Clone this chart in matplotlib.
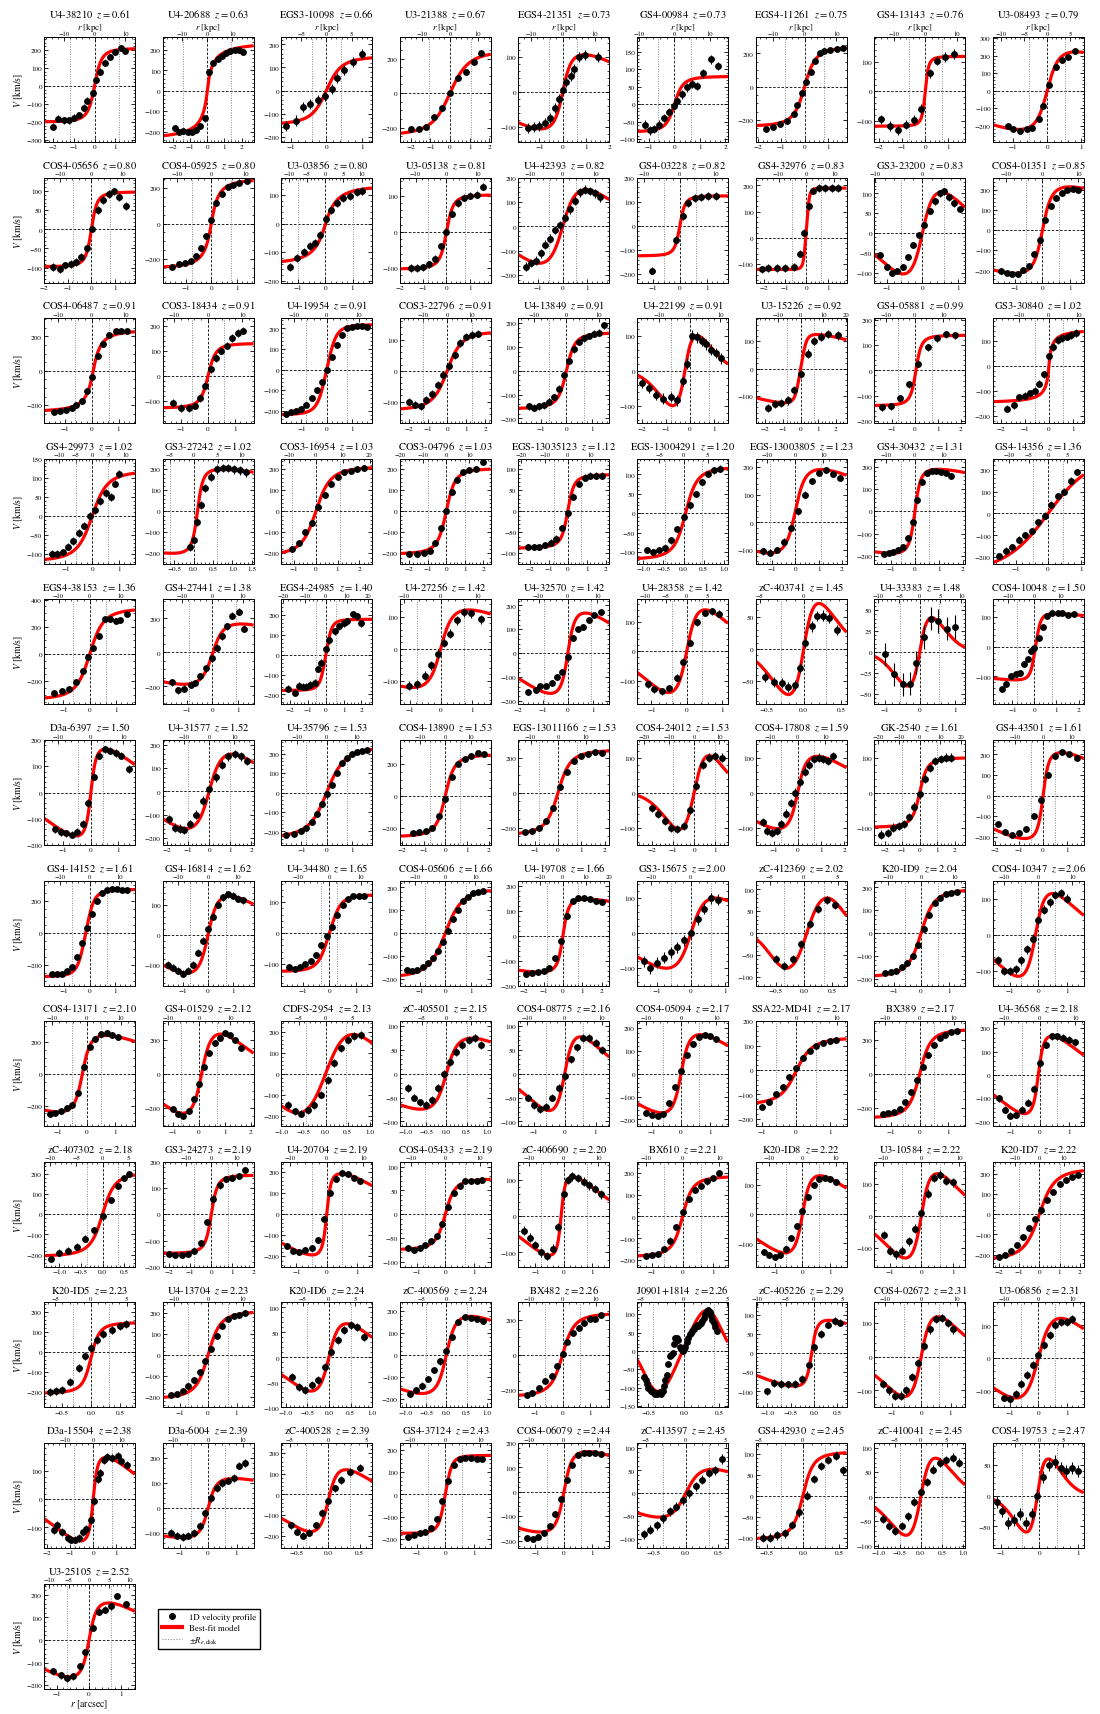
import numpy as np
import matplotlib
matplotlib.use('Agg')
import matplotlib.pyplot as plt
from matplotlib.ticker import MultipleLocator, AutoMinorLocator
from matplotlib.lines import Line2D

# ---------------- data ----------------
NAMES = ["U4-38210", "U4-20688", "EGS3-10098", "U3-21388", "EGS4-21351", "GS4-00984", "EGS4-11261", "GS4-13143", "U3-08493",
         "COS4-05656", "COS4-05925", "U3-03856", "U3-05138", "U4-42393", "GS4-03228", "GS4-32976", "GS3-23200", "COS4-01351",
         "COS4-06487", "COS3-18434", "U4-19954", "COS3-22796", "U4-13849", "U4-22199", "U3-15226", "GS4-05881", "GS3-30840",
         "GS4-29973", "GS3-27242", "COS3-16954", "COS3-04796", "EGS-13035123", "EGS-13004291", "EGS-13003805", "GS4-30432", "GS4-14356",
         "EGS4-38153", "GS4-27441", "EGS4-24985", "U4-27256", "U4-32570", "U4-28358", "zC-403741", "U4-33383", "COS4-10048",
         "D3a-6397", "U4-31577", "U4-35796", "COS4-13890", "EGS-13011166", "COS4-24012", "COS4-17808", "GK-2540", "GS4-43501",
         "GS4-14152", "GS4-16814", "U4-34480", "COS4-05606", "U4-19708", "GS3-15675", "zC-412369", "K20-ID9", "COS4-10347",
         "COS4-13171", "GS4-01529", "CDFS-2954", "zC-405501", "COS4-08775", "COS4-05094", "SSA22-MD41", "BX389", "U4-36568",
         "zC-407302", "GS3-24273", "U4-20704", "COS4-05433", "zC-406690", "BX610", "K20-ID8", "U3-10584", "K20-ID7",
         "K20-ID5", "U4-13704", "K20-ID6", "zC-400569", "BX482", "J0901+1814", "zC-405226", "COS4-02672", "U3-06856",
         "D3a-15504", "D3a-6004", "zC-400528", "GS4-37124", "COS4-06079", "zC-413597", "GS4-42930", "zC-410041", "COS4-19753",
         "U3-25105"]

ZS = [0.61, 0.63, 0.66, 0.67, 0.73, 0.73, 0.75, 0.76, 0.79,
      0.80, 0.80, 0.80, 0.81, 0.82, 0.82, 0.83, 0.83, 0.85,
      0.91, 0.91, 0.91, 0.91, 0.91, 0.91, 0.92, 0.99, 1.02,
      1.02, 1.02, 1.03, 1.03, 1.12, 1.20, 1.23, 1.31, 1.36,
      1.36, 1.38, 1.40, 1.42, 1.42, 1.42, 1.45, 1.48, 1.50,
      1.50, 1.52, 1.53, 1.53, 1.53, 1.53, 1.59, 1.61, 1.61,
      1.61, 1.62, 1.65, 1.66, 1.66, 2.00, 2.02, 2.04, 2.06,
      2.10, 2.12, 2.13, 2.15, 2.16, 2.17, 2.17, 2.17, 2.18,
      2.18, 2.19, 2.19, 2.19, 2.20, 2.21, 2.22, 2.22, 2.22,
      2.23, 2.23, 2.24, 2.24, 2.26, 2.26, 2.29, 2.31, 2.31,
      2.38, 2.39, 2.39, 2.43, 2.44, 2.45, 2.45, 2.45, 2.47,
      2.52]

XLIMS = [(-2.45, 1.95), (-2.6, 2.7), (-1.28, 1.3), (-2.56, 2.08), (-1.9, 2.0), (-1.47, 2.1), (-2.1, 1.8), (-2.2, 1.72), (-1.59, 1.07),
         (-2.0, 1.84), (-1.9, 1.65), (-1.61, 1.72), (-2.0, 1.9), (-1.8, 1.9), (-1.6, 1.8), (-2.4, 1.9), (-1.35, 1.2), (-1.8, 1.5),
         (-1.8, 1.62), (-1.7, 1.7), (-1.8, 1.8), (-2.5, 2.3), (-1.9, 1.7), (-2.2, 1.6), (-2.55, 2.6), (-1.77, 2.2), (-2.36, 1.47),
         (-1.8, 1.6), (-0.8, 1.55), (-1.6, 2.6), (-2.5, 2.4), (-2.6, 2.2), (-1.15, 1.1), (-1.7, 2.2), (-1.7, 2.1), (-1.7, 1.1),
         (-1.74, 1.72), (-1.93, 1.6), (-2.5, 2.6), (-1.32, 1.62), (-2.0, 1.68), (-1.41, 1.17), (-0.645, 0.576), (-1.3, 1.3), (-1.89, 2.24),
         (-1.7, 1.6), (-2.2, 2.1), (-1.8, 1.8), (-2.1, 2.1), (-1.7, 2.2), (-2.7, 1.6), (-1.8, 2.1), (-2.6, 2.6), (-2.1, 1.7),
         (-1.8, 1.8), (-1.8, 1.8), (-1.8, 1.6), (-1.8, 1.8), (-2.3, 2.4), (-1.6, 1.1), (-0.85, 0.75), (-1.7, 1.6), (-1.6, 1.6),
         (-1.5, 1.7), (-1.4, 2.1), (-1.0, 1.05), (-1.15, 1.1), (-1.5, 1.45), (-1.5, 1.6), (-1.2, 1.5), (-1.6, 1.6), (-1.6, 1.5),
         (-1.35, 0.75), (-2.3, 2.0), (-1.5, 1.5), (-1.6, 1.6), (-1.6, 1.6), (-1.5, 1.5), (-1.7, 1.6), (-1.5, 1.4), (-2.3, 2.2),
         (-0.8, 0.75), (-1.6, 1.6), (-1.1, 1.0), (-1.15, 1.1), (-1.6, 1.7), (-0.66, 0.62), (-1.25, 0.7), (-1.6, 1.5), (-1.6, 1.6),
         (-2.12, 1.8), (-1.6, 1.6), (-0.75, 0.7), (-1.6, 1.6), (-1.6, 1.6), (-0.75, 0.65), (-0.65, 0.6), (-1.1, 1.05), (-1.2, 1.15),
         (-1.39, 1.42)]

YLIMS = [(-310, 272), (-250, 263), (-223, 232), (-283, 325), (-143, 156), (-108, 192), (-332, 298), (-171, 183), (-293, 306),
         (-139, 135), (-333, 259), (-206, 160), (-140, 150), (-230, 200), (-235, 200), (-170, 230), (-125, 140), (-260, 260),
         (-304, 306), (-190, 230), (-260, 250), (-170, 170), (-220, 220), (-150, 150), (-199, 184), (-209, 207), (-229, 192),
         (-125, 150), (-250, 250), (-250, 250), (-250, 250), (-125, 125), (-130, 140), (-150, 230), (-235, 235), (-230, 250),
         (-371, 402), (-306, 312), (-250, 280), (-175, 155), (-214, 225), (-181, 176), (-86, 77), (-63, 63), (-194, 159),
         (-200, 200), (-230, 220), (-270, 270), (-310, 350), (-300, 300), (-150, 150), (-150, 150), (-150, 150), (-240, 270),
         (-330, 330), (-170, 180), (-170, 170), (-230, 230), (-200, 220), (-150, 150), (-120, 120), (-230, 230), (-140, 150),
         (-330, 330), (-310, 310), (-250, 250), (-110, 110), (-110, 110), (-230, 230), (-230, 200), (-310, 310), (-220, 230),
         (-260, 260), (-200, 200), (-250, 250), (-110, 110), (-140, 150), (-230, 250), (-180, 180), (-160, 170), (-260, 260),
         (-280, 250), (-250, 250), (-100, 110), (-240, 240), (-300, 300), (-154, 132), (-142, 133), (-150, 160), (-150, 170),
         (-173, 199), (-160, 260), (-260, 250), (-240, 230), (-230, 200), (-120, 110), (-125, 125), (-105, 110), (-85, 85),
         (-215, 249)]

XSTEP = [1, 1, 1, 1, 1, 1, 1, 1, 1,
         1, 1, 1, 1, 1, 1, 1, 1, 1,
         1, 1, 1, 1, 1, 1, 1, 1, 1,
         1, 0.5, 1, 1, 1, 0.5, 1, 1, 1,
         1, 1, 1, 1, 1, 1, 0.5, 1, 1,
         1, 1, 1, 1, 1, 1, 1, 1, 1,
         1, 1, 1, 1, 1, 1, 0.5, 1, 1,
         1, 1, 0.5, 0.5, 1, 1, 1, 1, 1,
         0.5, 1, 1, 1, 1, 1, 1, 1, 1,
         0.5, 1, 0.5, 0.5, 1, 0.5, 0.5, 1, 1,
         1, 1, 0.5, 1, 1, 0.5, 0.5, 0.5, 1,
         1]

YSTEP = [100, 100, 100, 200, 100, 50, 200, 100, 100,
         50, 200, 100, 100, 100, 100, 100, 50, 100,
         200, 100, 100, 100, 100, 100, 100, 100, 100,
         50, 100, 100, 100, 50, 50, 100, 100, 100,
         200, 200, 100, 100, 100, 100, 50, 25, 100,
         100, 100, 100, 200, 200, 100, 100, 100, 100,
         200, 100, 100, 100, 100, 100, 50, 100, 100,
         200, 200, 100, 50, 50, 100, 100, 200, 100,
         100, 100, 100, 50, 100, 100, 100, 100, 100,
         100, 100, 50, 100, 200, 50, 50, 100, 100,
         100, 100, 100, 100, 100, 50, 50, 50, 50,
         100]

KSTEP = [10, 10, 5, 10, 10, 10, 10, 10, 5,
         10, 10, 5, 10, 10, 10, 10, 10, 10,
         10, 10, 10, 10, 10, 10, 10, 10, 10,
         5, 5, 10, 10, 10, 5, 10, 10, 5,
         10, 10, 10, 10, 10, 5, 5, 5, 10,
         10, 10, 10, 10, 10, 10, 10, 10, 10,
         10, 10, 10, 10, 10, 10, 5, 10, 10,
         10, 10, 5, 5, 10, 10, 10, 10, 10,
         5, 10, 10, 10, 10, 10, 10, 10, 10,
         5, 10, 5, 5, 10, 5, 5, 10, 10,
         10, 10, 5, 10, 10, 5, 5, 5, 5,
         5]

# effective radius of the disk (arcsec), dotted lines
RE = [1.2, 1.4, 0.41, 1.07, 0.6, 0.65, 0.85, 0.72, 0.53,
      0.78, 0.75, 1.0, 0.8, 0.55, 0.6, 0.7, 0.6, 0.6,
      0.63, 0.6, 0.8, 1.3, 0.7, 0.8, 0.75, 0.75, 0.6,
      0.6, 0.6, 1.1, 1.0, 0.7, 0.45, 1.1, 0.6, 0.45,
      0.62, 0.9, 0.55, 0.75, 0.95, 0.42, 0.3, 0.55, 0.8,
      0.45, 1.0, 0.8, 0.7, 0.8, 1.0, 0.7, 1.0, 0.5,
      0.7, 0.7, 0.3, 0.8, 0.8, 0.6, 0.35, 0.6, 0.6,
      0.5, 0.7, 0.45, 0.5, 0.6, 0.6, 0.6, 0.5, 0.6,
      0.35, 0.8, 0.5, 0.7, 0.8, 0.6, 0.6, 0.6, 1.0,
      0.3, 0.7, 0.5, 0.5, 0.65, 0.43, 0.7, 0.6, 0.6,
      0.82, 0.6, 0.35, 0.6, 0.6, 0.35, 0.3, 0.5, 0.45,
      0.69]

# best-fit model parameters: (centre, offset, amplitude, turnover radius, sharpness, decline radius, decline power)
MODELS = [(0, 5, 205, 0.35, 2, 0, 2), (0, 0, 245, 0.3, 1, 0, 2), (0, 0, 150, 0.45, 2, 0, 2), (0, 0, 250, 1.0, 2, 0, 2),
          (0, 0, 124, 0.4, 2, 2.38, 2), (0, 0, 80, 0.35, 2, 0, 2), (0, 0, 240, 0.5, 2, 0, 2), (0, 0, 118, 0.15, 2, 0, 2),
          (0, 0, 258, 0.35, 2, 2.2, 2),
          (0, 0, 98, 0.25, 2, 0, 2), (0, 0, 255, 0.3, 1.5, 0, 2), (0, -5, 140, 0.45, 1.5, 0, 2), (0, 0, 103, 0.3, 2, 0, 2),
          (0, 0, 206, 0.6, 2, 1.76, 2), (0, 0, 125, 0.2, 2, 0, 2), (0, 35, 155, 0.15, 3, 0, 2), (0, 0, 143, 0.35, 2, 0.98, 2),
          (0, 0, 240, 0.35, 2, 3, 2),
          (0.05, 0, 240, 0.3, 1.5, 0, 2), (0, 0, 130, 0.3, 2, 0, 2), (0, 0, 220, 0.4, 2.5, 0, 2), (0, 0, 130, 0.8, 2, 0, 2),
          (0, 0, 160, 0.35, 2, 0, 2), (-0.2, 0, 142, 0.35, 2, 0.91, 2), (0, 0, 130, 0.35, 3, 4, 2), (0.05, 0, 140, 0.25, 2, 0, 2),
          (0, 0, 150, 0.12, 1, 0, 2),
          (0, 0, 120, 0.6, 2, 0, 2), (0.1, 0, 210, 0.15, 2, 3, 2), (0, 0, 215, 0.7, 2, 0, 2), (0, 0, 205, 0.5, 2, 0, 2),
          (0, 0, 88, 0.35, 2, 0, 2), (0.05, 0, 120, 0.3, 2, 0, 2), (0, 40, 175, 0.45, 2, 2.97, 2), (0, 0, 200, 0.25, 2, 4, 2),
          (0, 0, 300, 1.5, 2, 0, 2),
          (0, 0, 340, 0.55, 2, 0, 2), (0, -10, 205, 0.45, 2, 3, 2), (0, 0, 180, 0.35, 2.5, 0, 2), (0, 0, 144, 0.4, 2, 2.3, 2),
          (0, 0, 197, 0.3, 2, 1.8, 2), (0, 0, 184, 0.3, 2, 1.04, 2), (0, 0, 104, 0.15, 2, 0.35, 2), (0, 0, 60, 0.25, 2, 0.59, 2),
          (0.05, 0, 115, 0.25, 2.5, 5, 2),
          (0, 0, 188, 0.2, 2, 1.5, 2), (0, 0, 212, 0.65, 2, 2.1, 2), (0, 0, 240, 0.75, 2, 0, 2), (0, 0, 260, 0.45, 2, 0, 2),
          (0, 0, 245, 0.55, 2, 0, 2), (0, 0, 170, 0.6, 2, 1.1, 2), (0, 0, 125, 0.4, 2, 2.0, 2), (0, 0, 100, 0.45, 2, 0, 2),
          (0, 0, 230, 0.25, 2, 2.5, 2),
          (-0.15, 0, 275, 0.35, 2.5, 0, 2), (0, 0, 155, 0.4, 2, 2.0, 2), (0, 0, 125, 0.45, 2.5, 0, 2), (0, 0, 200, 0.7, 2, 0, 2),
          (0, 0, 155, 0.3, 2, 5, 2), (0, 0, 135, 0.45, 2, 1.4, 2), (0.05, 0, 120, 0.3, 2, 0.55, 3), (0, 0, 195, 0.5, 2, 0, 2),
          (-0.1, 0, 150, 0.35, 2, 1.2, 2),
          (-0.15, 0, 270, 0.3, 2, 2.5, 2), (0.1, 0, 300, 0.4, 2, 1.5, 2), (0, 0, 330, 0.6, 2, 0.9, 2), (0, 0, 90, 0.3, 2, 1.5, 2),
          (0, 0, 102, 0.3, 2, 1.0, 2), (0, 0, 205, 0.3, 2, 1.6, 2), (0, -5, 140, 0.5, 2, 0, 2), (0, 0, 265, 0.4, 2, 0, 2),
          (-0.05, 0, 195, 0.2, 2, 1.2, 2),
          (0, 0, 210, 0.3, 2, 0, 2), (0, 0, 150, 0.3, 2, 0, 2), (0, 0, 212, 0.15, 2, 1.6, 2), (0, 0, 75, 0.35, 2, 0, 2),
          (-0.1, 0, 122, 0.15, 2, 1.2, 2), (0, 0, 185, 0.35, 2, 0, 2), (0, 0, 160, 0.3, 2, 1.5, 2), (0, 0, 175, 0.3, 2, 1.0, 2),
          (0, 0, 230, 0.8, 2, 0, 2),
          (0, -30, 180, 0.15, 2, 0, 2), (0, 0, 210, 0.45, 2, 0, 2), (0, 0, 90, 0.25, 2, 0.8, 2), (0, 0, 205, 0.25, 2, 1.6, 2),
          (0, 0, 240, 0.45, 2, 0, 2), (-0.02, 0, 231, 0.5, 2, 0.45, 4), (-0.05, 0, 95, 0.12, 2, 1.2, 2), (0, 0, 158, 0.35, 2, 1.1, 2),
          (0, 0, 165, 0.5, 2, 1.5, 2),
          (0, 0, 167, 0.2, 2, 1.6, 2), (0, 0, 130, 0.3, 2, 3, 2), (0, -30, 190, 0.15, 2, 0.6, 2), (0, 0, 175, 0.25, 2.5, 0, 2),
          (0, 0, 185, 0.3, 2, 2.5, 2), (0, 0, 70, 0.25, 2, 0.8, 2), (0, 0, 105, 0.15, 2, 0, 2), (0, 0, 115, 0.25, 2, 0.6, 2),
          (-0.05, 0, 85, 0.2, 2, 0.5, 2),
          (0, 0, 190, 0.25, 2, 1.6, 2)]

VX = [
    [-2.0, -1.75, -1.5, -1.25, -1.0, -0.75, -0.5, -0.35, -0.1, 0.05, 0.25, 0.5, 0.75, 1.0, 1.25, 1.45],
    [-1.9, -1.65, -1.4, -1.1, -0.9, -0.65, -0.4, -0.15, 0.1, 0.35, 0.6, 0.85, 1.1, 1.35, 1.6, 1.85, 2.1],
    [-1.15, -0.85, -0.65, -0.45, -0.25, -0.05, 0.15, 0.3, 0.5, 0.75, 1.0],
    [-2.0, -1.6, -1.2, -0.8, -0.4, 0.0, 0.4, 0.8, 1.2, 1.6],
    [-1.5, -1.25, -1.0, -0.75, -0.55, -0.35, -0.15, 0.0, 0.15, 0.35, 0.5, 0.7, 0.95, 1.5],
    [-1.17, -0.97, -0.79, -0.6, -0.4, -0.2, 0.0, 0.1, 0.3, 0.5, 0.7, 0.9, 1.1, 1.45, 1.7],
    [-1.65, -1.35, -1.06, -0.76, -0.47, -0.32, -0.1, 0.07, 0.26, 0.44, 0.68, 0.85, 1.07, 1.37, 1.63],
    [-1.9, -1.53, -1.18, -0.85, -0.5, -0.18, 0.19, 0.5, 0.87, 1.24],
    [-1.16, -0.99, -0.8, -0.6, -0.43, -0.24, -0.12, 0.05, 0.25, 0.44, 0.62, 0.81],
    [-1.62, -1.32, -1.1, -0.88, -0.66, -0.44, -0.19, 0.03, 0.29, 0.51, 0.74, 0.96, 1.18, 1.47],
    [-1.53, -1.25, -1.04, -0.8, -0.6, -0.42, -0.22, -0.03, 0.19, 0.42, 0.65, 0.86, 1.08, 1.38],
    [-1.28, -1.03, -0.78, -0.56, -0.38, -0.19, 0.04, 0.22, 0.44, 0.66, 0.89, 1.16, 1.35],
    [-1.5, -1.25, -1.0, -0.75, -0.5, -0.25, 0.0, 0.25, 0.5, 0.75, 1.0, 1.3, 1.55],
    [-1.5, -1.3, -1.1, -0.9, -0.7, -0.5, -0.3, -0.1, 0.1, 0.3, 0.5, 0.7, 0.9, 1.1, 1.3, 1.5],
    [-1.05, -0.15, 0.1, 0.3, 0.55, 0.8, 1.05, 1.35],
    [-2.1, -1.8, -1.4, -1.0, -0.6, -0.3, -0.1, 0.1, 0.3, 0.6, 0.9, 1.2, 1.5],
    [-1.2, -1.0, -0.85, -0.7, -0.55, -0.4, -0.25, -0.1, 0.05, 0.2, 0.35, 0.5, 0.6, 0.75, 0.9, 1.05],
    [-1.5, -1.3, -1.1, -0.9, -0.7, -0.5, -0.3, -0.1, 0.1, 0.3, 0.5, 0.7, 0.9, 1.1, 1.3],
    [-1.44, -1.2, -0.98, -0.76, -0.59, -0.39, -0.2, 0.0, 0.24, 0.43, 0.65, 0.89, 1.11, 1.33],
    [-1.3, -1.0, -0.7, -0.5, -0.3, -0.1, 0.1, 0.3, 0.5, 0.7, 0.9, 1.1, 1.3],
    [-1.6, -1.4, -1.2, -1.0, -0.8, -0.6, -0.4, -0.2, 0.0, 0.2, 0.4, 0.6, 0.8, 1.0, 1.2, 1.4, 1.6],
    [-2.0, -1.7, -1.4, -1.1, -0.8, -0.5, -0.2, 0.1, 0.4, 0.7, 1.0, 1.3, 1.6],
    [-1.5, -1.3, -1.1, -0.9, -0.7, -0.5, -0.3, -0.1, 0.1, 0.3, 0.5, 0.7, 0.9, 1.1, 1.3, 1.5],
    [-2.0, -1.7, -1.4, -1.1, -0.8, -0.55, -0.3, -0.1, 0.1, 0.3, 0.5, 0.7, 0.9, 1.1, 1.3],
    [-1.87, -1.45, -1.13, -0.74, -0.36, 0.0, 0.4, 0.77, 1.15, 1.53, 2.13],
    [-1.43, -1.05, -0.63, -0.26, 0.15, 0.57, 0.95, 1.35, 1.77],
    [-1.75, -1.48, -1.27, -1.02, -0.78, -0.58, -0.4, -0.19, 0.0, 0.18, 0.39, 0.57, 0.75, 0.93, 1.14],
    [-1.5, -1.3, -1.1, -0.9, -0.7, -0.5, -0.3, -0.1, 0.1, 0.3, 0.5, 0.7, 0.85, 1.0],
    [-0.1, 0.0, 0.1, 0.2, 0.3, 0.45, 0.6, 0.75, 0.9, 1.05, 1.2, 1.35],
    [-1.1, -0.8, -0.5, -0.2, 0.1, 0.4, 0.7, 1.0, 1.3, 1.6, 1.9, 2.2],
    [-2.0, -1.6, -1.2, -0.9, -0.6, -0.3, 0.0, 0.3, 0.6, 0.9, 1.2, 1.6, 2.0],
    [-2.1, -1.8, -1.5, -1.2, -0.9, -0.6, -0.3, 0.0, 0.3, 0.6, 0.9, 1.2, 1.5, 1.8],
    [-0.9, -0.75, -0.6, -0.45, -0.3, -0.15, 0.0, 0.15, 0.3, 0.45, 0.6, 0.75, 0.9],
    [-1.4, -1.1, -0.8, -0.5, -0.2, 0.1, 0.4, 0.7, 1.0, 1.3, 1.6, 1.9],
    [-1.3, -1.1, -0.9, -0.7, -0.5, -0.3, -0.1, 0.1, 0.3, 0.5, 0.7, 0.9, 1.1, 1.3, 1.5],
    [-1.5, -1.3, -1.1, -0.9, -0.7, -0.5, -0.3, -0.1, 0.1, 0.3, 0.5, 0.7, 0.9],
    [-1.35, -1.06, -0.8, -0.54, -0.26, -0.07, 0.13, 0.35, 0.59, 0.77, 0.98, 1.16, 1.4],
    [-1.56, -1.33, -1.09, -0.84, -0.67, -0.47, -0.23, -0.03, 0.17, 0.37, 0.57, 0.77, 1.03, 1.24],
    [-2.1, -1.75, -1.5, -1.3, -1.1, -0.9, -0.6, -0.45, -0.25, 0.0, 0.2, 0.5, 0.75, 1.0, 1.2, 1.5, 1.75, 2.0],
    [-1.02, -0.77, -0.52, -0.3, -0.08, 0.11, 0.3, 0.52, 0.75, 0.99, 1.3],
    [-1.61, -1.3, -1.12, -0.88, -0.64, -0.43, -0.22, 0.0, 0.2, 0.41, 0.63, 0.84, 1.05, 1.33],
    [-1.11, -0.92, -0.7, -0.51, -0.28, -0.12, 0.08, 0.3, 0.52, 0.71, 0.91],
    [-0.52, -0.4, -0.29, -0.21, -0.12, -0.05, 0.02, 0.11, 0.18, 0.26, 0.34, 0.45],
    [-0.99, -0.74, -0.48, -0.29, -0.1, 0.12, 0.32, 0.53, 0.77, 1.01],
    [-1.47, -1.27, -1.05, -0.85, -0.65, -0.46, -0.28, -0.15, 0.0, 0.19, 0.39, 0.59, 0.8, 1.05, 1.27, 1.51, 1.78],
    [-1.3, -1.1, -0.9, -0.7, -0.5, -0.3, -0.1, 0.1, 0.3, 0.5, 0.7, 0.9, 1.1, 1.4],
    [-1.9, -1.6, -1.4, -1.2, -0.9, -0.6, -0.3, 0.0, 0.3, 0.6, 0.9, 1.2, 1.5, 1.8],
    [-1.6, -1.3, -1.0, -0.8, -0.6, -0.4, -0.2, 0.0, 0.2, 0.4, 0.6, 0.8, 1.0, 1.2, 1.4, 1.6],
    [-1.5, -1.2, -0.9, -0.6, -0.3, 0.0, 0.3, 0.6, 0.9, 1.2, 1.5, 1.8],
    [-1.4, -1.1, -0.8, -0.5, -0.2, 0.1, 0.4, 0.7, 1.0, 1.3, 1.6, 1.9],
    [-2.0, -1.7, -1.4, -1.1, -0.8, -0.5, -0.2, 0.1, 0.4, 0.7, 1.0, 1.3],
    [-1.5, -1.3, -1.1, -0.9, -0.7, -0.5, -0.3, -0.1, 0.1, 0.3, 0.5, 0.7, 0.9, 1.1, 1.3, 1.5],
    [-2.2, -1.8, -1.5, -1.2, -0.9, -0.6, -0.3, 0.0, 0.3, 0.6, 0.9, 1.2, 1.5, 1.8],
    [-1.9, -1.6, -1.3, -1.0, -0.7, -0.4, -0.1, 0.2, 0.5, 0.8, 1.1, 1.4],
    [-1.5, -1.3, -1.1, -0.9, -0.7, -0.5, -0.3, -0.1, 0.1, 0.3, 0.5, 0.7, 0.9, 1.1, 1.3, 1.5],
    [-1.6, -1.4, -1.2, -1.0, -0.8, -0.6, -0.4, -0.2, 0.0, 0.2, 0.4, 0.6, 0.8, 1.0, 1.2, 1.4],
    [-1.5, -1.3, -1.1, -0.9, -0.7, -0.5, -0.3, -0.1, 0.1, 0.3, 0.5, 0.7, 0.9, 1.1, 1.3],
    [-1.5, -1.3, -1.1, -0.9, -0.7, -0.5, -0.3, -0.1, 0.1, 0.3, 0.5, 0.7, 0.9, 1.1, 1.3, 1.5],
    [-1.9, -1.6, -1.3, -1.0, -0.7, -0.4, -0.1, 0.2, 0.5, 0.8, 1.1, 1.4, 1.7, 2.0],
    [-1.4, -1.2, -1.0, -0.8, -0.6, -0.4, -0.2, 0.0, 0.2, 0.4, 0.6, 0.8],
    [-0.5, -0.35, -0.2, -0.05, 0.1, 0.25, 0.4, 0.55],
    [-1.3, -1.1, -0.9, -0.7, -0.5, -0.3, -0.1, 0.1, 0.3, 0.5, 0.7, 0.9, 1.1, 1.3],
    [-1.4, -1.2, -1.0, -0.8, -0.6, -0.4, -0.2, 0.0, 0.2, 0.4, 0.6, 0.8, 1.0],
    [-1.3, -1.1, -0.9, -0.7, -0.5, -0.3, -0.1, 0.1, 0.3, 0.5, 0.7, 0.9, 1.1],
    [-1.0, -0.8, -0.6, -0.4, -0.2, 0.0, 0.2, 0.4, 0.6, 0.8, 1.0, 1.2, 1.4, 1.6],
    [-0.85, -0.7, -0.55, -0.4, -0.25, -0.1, 0.05, 0.2, 0.35, 0.5, 0.65, 0.8],
    [-0.95, -0.8, -0.65, -0.5, -0.35, -0.2, -0.05, 0.1, 0.25, 0.4, 0.55, 0.7, 0.85],
    [-1.2, -1.0, -0.8, -0.6, -0.4, -0.2, 0.0, 0.2, 0.4, 0.6, 0.8, 1.0, 1.2],
    [-1.2, -1.0, -0.8, -0.6, -0.4, -0.2, 0.0, 0.2, 0.4, 0.6, 0.8, 1.0, 1.2],
    [-1.0, -0.8, -0.6, -0.4, -0.2, 0.0, 0.2, 0.4, 0.6, 0.8, 1.0, 1.2],
    [-1.3, -1.1, -0.9, -0.7, -0.5, -0.3, -0.1, 0.1, 0.3, 0.5, 0.7, 0.9, 1.1, 1.3],
    [-1.4, -1.2, -1.0, -0.8, -0.6, -0.4, -0.2, 0.0, 0.2, 0.4, 0.6, 0.8, 1.0, 1.2],
    [-1.2, -1.0, -0.8, -0.6, -0.4, -0.2, 0.0, 0.2, 0.35, 0.5, 0.6],
    [-2.0, -1.7, -1.4, -1.1, -0.8, -0.5, -0.2, 0.1, 0.4, 0.7, 1.0, 1.3, 1.6],
    [-1.3, -1.1, -0.9, -0.7, -0.5, -0.3, -0.1, 0.1, 0.3, 0.5, 0.7, 0.9, 1.1],
    [-1.3, -1.1, -0.9, -0.7, -0.5, -0.3, -0.1, 0.1, 0.3, 0.5, 0.7, 0.9, 1.1, 1.3],
    [-1.4, -1.2, -1.0, -0.8, -0.6, -0.4, -0.2, 0.0, 0.15, 0.3, 0.5, 0.7, 0.9, 1.1, 1.3],
    [-1.2, -1.0, -0.8, -0.6, -0.4, -0.2, 0.0, 0.2, 0.4, 0.6, 0.8, 1.0, 1.2],
    [-1.4, -1.2, -1.0, -0.8, -0.6, -0.4, -0.2, 0.0, 0.2, 0.4, 0.6, 0.8, 1.0, 1.2],
    [-1.2, -1.0, -0.8, -0.6, -0.4, -0.2, 0.0, 0.2, 0.4, 0.6, 0.8, 1.0],
    [-2.0, -1.7, -1.4, -1.1, -0.8, -0.5, -0.2, 0.1, 0.4, 0.7, 1.0, 1.3, 1.6, 1.9],
    [-0.7, -0.6, -0.5, -0.35, -0.2, -0.1, 0.0, 0.1, 0.2, 0.35, 0.5, 0.6],
    [-1.3, -1.1, -0.9, -0.7, -0.5, -0.3, -0.1, 0.1, 0.3, 0.5, 0.7, 0.9, 1.1, 1.3],
    [-0.85, -0.7, -0.55, -0.4, -0.25, -0.1, 0.05, 0.2, 0.35, 0.5, 0.65, 0.8],
    [-0.9, -0.75, -0.6, -0.45, -0.3, -0.15, 0.0, 0.15, 0.3, 0.45, 0.6, 0.75, 0.9],
    [-1.3, -1.1, -0.85, -0.63, -0.39, -0.21, 0.0, 0.18, 0.38, 0.58, 0.77, 0.98, 1.19, 1.39],
    [-0.56, -0.54, -0.52, -0.50, -0.48, -0.46, -0.44, -0.42, -0.40, -0.38, -0.36, -0.34, -0.32,
     -0.30, -0.28, -0.26, -0.24, -0.22, -0.20, -0.18, -0.16, -0.14, -0.12, -0.10, -0.08, -0.06,
     -0.04, -0.02, 0.00, 0.02, 0.04, 0.06, 0.08, 0.10, 0.12, 0.14, 0.16, 0.18, 0.20, 0.22,
     0.24, 0.26, 0.28, 0.30, 0.32, 0.34, 0.36, 0.38, 0.40, 0.42, 0.44, 0.46],
    [-1.0, -0.85, -0.7, -0.55, -0.4, -0.25, -0.1, 0.0, 0.15, 0.3, 0.45, 0.55],
    [-1.3, -1.1, -0.9, -0.7, -0.5, -0.3, -0.1, 0.1, 0.3, 0.5, 0.7, 0.9, 1.1],
    [-1.2, -1.0, -0.8, -0.6, -0.4, -0.2, 0.0, 0.2, 0.4, 0.6, 0.8, 1.0, 1.2],
    [-1.7, -1.55, -1.35, -1.1, -0.95, -0.8, -0.6, -0.45, -0.3, -0.1, 0.03, 0.2, 0.3, 0.45, 0.6, 0.8, 1.05, 1.2, 1.45],
    [-1.3, -1.1, -0.9, -0.7, -0.5, -0.3, -0.1, 0.1, 0.3, 0.5, 0.7, 0.9, 1.1, 1.3],
    [-0.6, -0.5, -0.4, -0.3, -0.2, -0.1, 0.0, 0.1, 0.2, 0.35, 0.5],
    [-1.3, -1.1, -0.9, -0.7, -0.5, -0.3, -0.1, 0.1, 0.3, 0.5, 0.7, 0.9, 1.1, 1.3],
    [-1.3, -1.1, -0.9, -0.7, -0.5, -0.3, -0.1, 0.1, 0.3, 0.5, 0.7, 0.9, 1.1, 1.3],
    [-0.65, -0.55, -0.45, -0.35, -0.25, -0.15, -0.05, 0.05, 0.15, 0.25, 0.35, 0.45, 0.55],
    [-0.55, -0.45, -0.35, -0.25, -0.15, -0.05, 0.05, 0.15, 0.25, 0.35, 0.45, 0.55],
    [-0.9, -0.75, -0.6, -0.45, -0.3, -0.15, 0.0, 0.15, 0.3, 0.45, 0.6, 0.75, 0.9],
    [-1.1, -0.95, -0.8, -0.65, -0.5, -0.35, -0.2, -0.05, 0.1, 0.25, 0.4, 0.55, 0.7, 0.85, 1.0],
    [-1.12, -0.86, -0.67, -0.48, -0.28, -0.11, 0.11, 0.31, 0.48, 0.68, 0.87, 1.14],
]

VY = [
    [-225, -180, -190, -190, -175, -160, -120, -80, -40, 35, 80, 130, 160, 188, 210, 195],
    [-180, -200, -195, -200, -200, -190, -170, -135, 90, 135, 155, 170, 185, 195, 200, 200, 190],
    [-155, -130, -72, -60, -42, -25, 8, 55, 88, 125, 160],
    [-210, -205, -195, -140, -85, 0, 85, 125, 180, 230],
    [-103, -100, -98, -88, -75, -45, -20, 5, 28, 45, 65, 100, 105, 98],
    [-58, -75, -70, -58, -40, -22, -5, 8, 28, 48, 58, 52, 88, 128, 110],
    [-256, -240, -226, -206, -166, -112, -40, 28, 88, 154, 204, 214, 220, 228, 230],
    [-95, -117, -130, -112, -97, -60, 60, 103, 115, 125],
    [-201, -216, -229, -220, -211, -164, -86, 32, 134, 172, 194, 228],
    [-98, -103, -94, -90, -85, -72, -50, 2, 51, 77, 93, 99, 84, 61],
    [-245, -229, -224, -214, -184, -139, -71, 20, 116, 167, 208, 218, 229, 241],
    [-150, -121, -101, -80, -68, -39, 14, 46, 72, 90, 96, 110, 114],
    [-100, -100, -98, -90, -75, -40, 0, 50, 80, 95, 100, 103, 125],
    [-165, -150, -140, -110, -75, -50, -15, 5, 35, 70, 105, 140, 150, 145, 135, 120],
    [-185, -60, 40, 95, 115, 120, 125, 125],
    [-120, -115, -115, -115, -110, -60, 20, 120, 180, 190, 190, 190, 190],
    [-55, -85, -100, -95, -85, -60, -30, -5, 20, 55, 80, 100, 105, 90, 75, 60],
    [-205, -210, -215, -215, -200, -180, -120, -50, 50, 120, 160, 185, 200, 205, 200],
    [-240, -233, -227, -217, -198, -175, -117, -35, 87, 158, 206, 229, 231, 233],
    [-110, -130, -130, -120, -90, -40, 25, 70, 100, 120, 150, 170, 180],
    [-215, -205, -200, -190, -170, -140, -100, -60, 0, 60, 120, 170, 200, 205, 210, 210, 205],
    [-100, -110, -115, -95, -75, -45, -15, 15, 50, 90, 110, 115, 120],
    [-150, -155, -150, -145, -130, -110, -75, -20, 40, 90, 120, 135, 145, 155, 160, 190],
    [-35, -50, -70, -80, -75, -85, -30, 20, 100, 95, 85, 75, 60, 50, 35],
    [-144, -128, -125, -116, -77, -20, 55, 102, 117, 126, 121],
    [-145, -142, -110, -55, 27, 92, 127, 143, 140],
    [-171, -158, -125, -118, -109, -99, -70, -33, 39, 76, 103, 112, 118, 125, 132],
    [-100, -100, -95, -80, -65, -45, -25, 0, 15, 40, 60, 50, 85, 110],
    [-170, -135, -50, 30, 110, 165, 200, 205, 205, 200, 195, 185],
    [-180, -150, -100, -55, 20, 80, 130, 165, 185, 190, 200, 205],
    [-205, -205, -200, -190, -150, -80, 0, 90, 150, 185, 195, 200, 235],
    [-85, -85, -85, -80, -75, -65, -40, -5, 35, 65, 80, 85, 85, 85],
    [-95, -100, -95, -90, -70, -40, -10, 20, 50, 80, 100, 110, 115],
    [-105, -110, -100, -70, -20, 40, 100, 150, 180, 190, 175, 160],
    [-190, -185, -180, -175, -160, -120, -50, 50, 130, 170, 180, 180, 175, 170, 160],
    [-195, -170, -155, -120, -100, -80, -40, -10, 40, 80, 100, 150, 190],
    [-288, -276, -256, -207, -122, -20, 41, 134, 256, 256, 244, 249, 298],
    [-176, -224, -213, -189, -180, -141, -93, -35, 27, 95, 153, 216, 240, 139],
    [-170, -190, -155, -160, -160, -150, -140, -70, -40, 30, 75, 120, 145, 160, 170, 205, 195, 160],
    [-116, -112, -85, -52, -16, 19, 47, 90, 114, 112, 93],
    [-162, -153, -136, -137, -126, -99, -78, -14, 62, 100, 110, 137, 158, 174],
    [-112, -129, -137, -126, -90, -36, 28, 99, 130, 135, 127],
    [-43, -51, -53, -59, -56, -29, 10, 35, 51, 52, 48, 29],
    [-3, -27, -39, -38, -13, 18, 40, 37, 28, 30],
    [-142, -126, -100, -92, -89, -59, -42, -14, -6, 30, 67, 103, 113, 113, 113, 108, 111],
    [-140, -150, -155, -160, -150, -120, -40, 60, 140, 165, 160, 150, 140, 90],
    [-120, -155, -160, -165, -140, -100, -40, 10, 60, 115, 150, 160, 150, 130],
    [-220, -215, -200, -185, -150, -110, -60, -10, 40, 100, 150, 180, 200, 210, 215, 220],
    [-235, -230, -225, -200, -130, -20, 120, 200, 230, 250, 270, 260],
    [-225, -220, -200, -160, -90, 30, 120, 180, 210, 220, 230, 225],
    [-45, -60, -80, -100, -105, -95, -50, 20, 80, 100, 105, 100],
    [-85, -110, -115, -110, -90, -60, -30, 0, 30, 60, 80, 95, 100, 95, 90, 105],
    [-120, -115, -100, -95, -90, -70, -40, -5, 40, 70, 90, 95, 100, 100],
    [-140, -175, -190, -180, -160, -100, -20, 100, 190, 210, 200, 185],
    [-260, -260, -255, -240, -210, -150, -60, 30, 120, 200, 250, 270, 275, 275, 270, 270],
    [-100, -110, -120, -130, -120, -100, -60, -20, 20, 60, 100, 125, 135, 130, 120, 115],
    [-110, -115, -110, -100, -90, -70, -40, -10, 20, 60, 90, 110, 120, 120, 120],
    [-160, -165, -160, -150, -130, -110, -80, -40, 10, 60, 100, 140, 160, 175, 180, 185],
    [-155, -150, -145, -140, -130, -90, -20, 80, 140, 150, 150, 145, 140, 135],
    [-80, -100, -85, -70, -55, -40, -20, 0, 40, 70, 100, 95],
    [-60, -75, -60, -25, 20, 55, 75, 65],
    [-175, -170, -165, -150, -130, -100, -50, 20, 80, 130, 155, 170, 175, 180],
    [-70, -100, -100, -95, -70, -40, -10, 40, 70, 90, 110, 115, 100],
    [-255, -245, -235, -215, -195, -120, 40, 170, 220, 250, 255, 245, 230],
    [-210, -240, -250, -220, -150, -60, 40, 120, 180, 210, 240, 230, 200, 150],
    [-150, -180, -190, -175, -150, -100, -30, 50, 120, 160, 180, 185],
    [-30, -50, -60, -65, -55, -30, 0, 25, 45, 60, 70, 75, 60],
    [-50, -65, -75, -70, -50, -30, -5, 30, 55, 75, 75, 65, 50],
    [-170, -180, -185, -175, -130, -60, 10, 80, 130, 160, 170, 165, 150],
    [-150, -130, -100, -70, -30, 10, 50, 80, 100, 110, 120, 125],
    [-240, -235, -225, -210, -170, -110, -40, 40, 110, 170, 210, 230, 245, 250],
    [-100, -150, -175, -170, -150, -120, -60, 50, 130, 165, 165, 160, 150, 140],
    [-220, -190, -180, -160, -120, -80, -10, 70, 140, 180, 200],
    [-150, -155, -155, -150, -140, -110, -30, 60, 110, 135, 140, 145, 170],
    [-150, -175, -180, -170, -160, -120, -20, 100, 170, 195, 190, 175, 160],
    [-70, -75, -70, -65, -55, -45, -20, 15, 45, 60, 70, 70, 70, 72],
    [-40, -60, -80, -100, -110, -90, -30, 60, 100, 110, 105, 95, 85, 75, 60],
    [-180, -175, -170, -150, -110, -50, 20, 80, 120, 140, 160, 175, 200],
    [-130, -140, -145, -140, -120, -80, -40, 10, 60, 100, 120, 125, 120, 110],
    [-60, -110, -120, -110, -80, -40, 10, 70, 120, 130, 110, 105],
    [-210, -200, -180, -150, -110, -70, -25, 20, 70, 110, 150, 170, 185, 195],
    [-200, -195, -190, -150, -80, -20, 20, 60, 90, 110, 130, 140],
    [-190, -185, -170, -150, -120, -80, -30, 30, 90, 140, 170, 185, 190, 200],
    [-40, -60, -65, -55, -45, -20, 10, 35, 55, 65, 60, 40],
    [-180, -160, -140, -110, -70, -30, 20, 80, 150, 175, 170, 165, 155],
    [-230, -215, -190, -150, -120, -65, 5, 75, 128, 155, 180, 207, 207, 226],
    [-72, -80, -90, -100, -105, -108, -112, -115, -118, -118, -115, -112, -118,
     -108, -95, -80, -65, -35, -15, -10, -5, 20, 35, 35, 30, 10,
     5, 0, 5, 10, 25, 35, 45, 50, 55, 60, 65, 70, 68, 72,
     75, 80, 90, 100, 108, 110, 105, 95, 85, 75, 65, 55],
    [-100, -78, -80, -82, -80, -68, -30, 15, 50, 75, 85, 80],
    [-80, -100, -115, -115, -100, -60, -20, 30, 80, 110, 115, 100, 80],
    [-120, -125, -110, -80, -50, -20, 10, 40, 70, 100, 110, 110, 120],
    [-110, -90, -115, -138, -143, -143, -138, -118, -105, -75, -5, 70, 92, 140, 148, 145, 152, 135, 120],
    [-100, -110, -115, -110, -100, -70, -20, 40, 80, 100, 110, 120, 170, 180],
    [-150, -180, -200, -185, -150, -90, -30, 30, 70, 110, 130],
    [-190, -180, -175, -170, -150, -110, -30, 60, 130, 160, 165, 165, 160, 160],
    [-190, -195, -185, -170, -140, -90, -30, 50, 110, 150, 160, 160, 160, 155],
    [-90, -80, -70, -55, -40, -30, -15, 0, 15, 30, 45, 50, 75],
    [-100, -100, -95, -90, -70, -40, 0, 40, 70, 85, 95, 60],
    [-45, -60, -70, -60, -40, -10, 10, 30, 55, 70, 75, 80, 70],
    [-10, -25, -45, -40, -30, -45, -30, 0, 30, 50, 55, 45, 40, 45, 40],
    [-139, -157, -169, -160, -116, -55, 55, 124, 134, 149, 194, 157],
]

# typical velocity uncertainty per panel (km/s)
VERR = [18, 15, 22, 15, 14, 12, 14, 16, 15,
        10, 15, 14, 10, 18, 16, 14, 8, 12,
        12, 15, 12, 12, 14, 15, 15, 14, 15,
        10, 20, 14, 14, 8, 8, 12, 12, 15,
        18, 20, 18, 14, 12, 12, 8, 14, 10,
        14, 18, 12, 16, 16, 12, 12, 12, 14,
        15, 12, 10, 12, 12, 16, 9, 12, 12,
        16, 18, 18, 8, 8, 12, 12, 15, 15,
        16, 12, 14, 6, 12, 14, 10, 14, 12,
        20, 12, 8, 14, 15, 5, 10, 12, 12,
        14, 15, 18, 12, 12, 10, 10, 9, 10,
        15]


def kpc_per_arcsec(z):
    zz = np.linspace(0.0, z, 4000)
    ez = np.sqrt(0.3 * (1 + zz) ** 3 + 0.7)
    dc = 299792.458 / 70.0 * np.trapezoid(1.0 / ez, zz)
    return dc / (1 + z) * 1000.0 * np.pi / 648000.0


def model(x, x0, v0, amp, rt, a, rd, p):
    u = x - x0
    s = u / rt
    f = s / (1 + np.abs(s) ** a) ** (1.0 / a)
    if rd > 0:
        f = f * np.exp(-0.5 * (np.abs(u) / rd) ** p)
    return v0 + amp * f


# ---------------- figure ----------------
plt.rcParams['font.family'] = ['STIXGeneral', 'DejaVu Serif']
plt.rcParams['mathtext.fontset'] = 'stix'
plt.rcParams['axes.linewidth'] = 0.7

FW, FH = 1100, 1715
fig = plt.figure(figsize=(FW / 100, FH / 100), dpi=100)

for i in range(len(NAMES)):
    r, c = divmod(i, 9)
    left = (44 + 118.6 * c) / FW
    top = 38 + 140.6 * r
    ax = fig.add_axes([left, 1 - (top + 105) / FH, 91 / FW, 105 / FH])
    x0, x1 = XLIMS[i]
    ax.set_xlim(x0, x1)
    ax.set_ylim(*YLIMS[i])

    ax.axhline(0, color='k', ls=(0, (3, 2)), lw=0.6, zorder=1)
    ax.axvline(0, color='k', ls=(0, (3, 2)), lw=0.6, zorder=1)
    for sgn in (-1, 1):
        ax.axvline(sgn * RE[i], color='0.55', ls=(0, (1, 1.5)), lw=0.7, zorder=1)

    xx = np.linspace(x0, x1, 400)
    ax.plot(xx, model(xx, *MODELS[i]), color='red', lw=2.3, zorder=2, solid_capstyle='butt')
    n = min(len(VX[i]), len(VY[i]))
    ax.errorbar(VX[i][:n], VY[i][:n], yerr=VERR[i], fmt='o', color='k', ms=3.9,
                elinewidth=0.8, capsize=0, zorder=3)

    ax.xaxis.set_major_locator(MultipleLocator(XSTEP[i]))
    ax.xaxis.set_minor_locator(AutoMinorLocator())
    ax.yaxis.set_major_locator(MultipleLocator(YSTEP[i]))
    ax.yaxis.set_minor_locator(AutoMinorLocator())
    ax.tick_params(which='both', direction='in', top=False, right=True, labelsize=5.2, pad=1.5, width=0.6)
    ax.tick_params(which='major', length=3)
    ax.tick_params(which='minor', length=1.5, width=0.5)

    sc = kpc_per_arcsec(ZS[i])
    sec = ax.secondary_xaxis('top', functions=(lambda v, s=sc: v * s, lambda k, s=sc: k / s))
    sec.xaxis.set_major_locator(MultipleLocator(KSTEP[i]))
    sec.xaxis.set_minor_locator(AutoMinorLocator())
    sec.tick_params(which='both', direction='in', labelsize=4.8, pad=1, width=0.6)
    sec.tick_params(which='major', length=3)
    sec.tick_params(which='minor', length=1.5, width=0.5)
    if r == 0:
        sec.set_xlabel('$r$ [kpc]', fontsize=6.5, labelpad=1)
    if c == 0:
        ax.set_ylabel('$V$ [km/s]', fontsize=7, labelpad=1)
    if i == len(NAMES) - 1:
        ax.set_xlabel('$r$ [arcsec]', fontsize=7, labelpad=1)

    ax.set_title(f'{NAMES[i]}  $z={ZS[i]:.2f}$', fontsize=7.6, pad=1.5)

handles = [Line2D([], [], marker='o', color='k', ls='none', ms=4),
           Line2D([], [], color='red', lw=3),
           Line2D([], [], color='0.55', ls=(0, (1, 1.5)), lw=0.8)]
labels = ['1D velocity profile', 'Best-fit model', r'$\pm R_{e,\mathrm{disk}}$']
fig.legend(handles, labels, loc='upper left', bbox_to_anchor=(154 / FW, 1 - 1606 / FH),
           fontsize=6.3, frameon=True, fancybox=False, edgecolor='k', framealpha=1,
           handlelength=2.3, borderpad=0.4, labelspacing=0.3)

fig.savefig('out.png', dpi=100)
